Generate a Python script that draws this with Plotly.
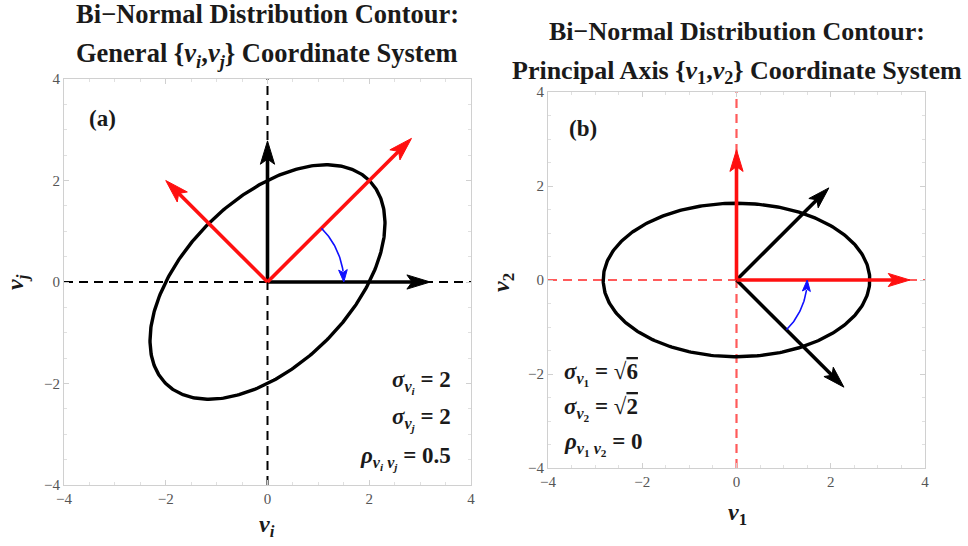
import numpy as np
import plotly.graph_objects as go

# ---- distribution parameters ----
# (a) general coordinates
sig_i, sig_j, rho_ij = 2.0, 2.0, 0.5
# (b) principal axes
sig_1, sig_2, rho_12 = np.sqrt(6.0), np.sqrt(2.0), 0.0
level = 4.0 / 3.0  # squared Mahalanobis distance of the drawn contour

# ---- axis vectors drawn from the origin ----
a_black = [(3.2, 0.0), (0.0, 2.78)]      # v_i, v_j in panel (a)
a_red = [(2.83, 2.83), (-2.0, 2.0)]      # v_1, v_2 in panel (a)
b_red = [(3.68, 0.0), (0.0, 2.77)]       # v_1, v_2 in panel (b)
b_black = [(2.28, -2.28), (1.96, 1.96)]  # v_i, v_j in panel (b)

# rotation arcs: radius and start/end angle (degrees)
arc_radius = 1.5
a_arc = (45.0, 0.0)
b_arc = (-45.0, 0.0)

ticks = [-4, -2, 0, 2, 4]
axis_range = [-4, 4]

SERIF = "Liberation Serif"
W, H = 968, 546

fig = go.Figure()


def ellipse(sx, sy, rho, c, n=361):
    cov = np.array([[sx * sx, rho * sx * sy], [rho * sx * sy, sy * sy]])
    vals, vecs = np.linalg.eigh(cov)
    t = np.linspace(0, 2 * np.pi, n)
    circ = np.vstack([np.cos(t), np.sin(t)]) * np.sqrt(c * vals)[:, None]
    pts = vecs @ circ
    return pts[0], pts[1]


def add_line(x, y, color, width, xa, ya, dash=None):
    fig.add_trace(go.Scatter(x=list(x), y=list(y), mode="lines",
                             line=dict(color=color, width=width, dash=dash),
                             xaxis=xa, yaxis=ya, hoverinfo="skip",
                             showlegend=False))


def add_head(tip, direction, color, length, half, xa, ya):
    tip = np.asarray(tip, float)
    u = np.asarray(direction, float)
    u = u / np.linalg.norm(u)
    nrm = np.array([-u[1], u[0]])
    back = tip - length * u
    notch = tip - 0.78 * length * u
    p = [tip, back + half * nrm, notch, back - half * nrm, tip]
    fig.add_trace(go.Scatter(x=[q[0] for q in p], y=[q[1] for q in p],
                             mode="lines", fill="toself", fillcolor=color,
                             line=dict(color=color, width=1),
                             xaxis=xa, yaxis=ya, hoverinfo="skip",
                             showlegend=False))


def add_arrow(vec, color, xa, ya, width=3.6, head=0.46, half=0.14):
    v = np.asarray(vec, float)
    L = np.linalg.norm(v)
    end = v * (L - 0.7 * head) / L
    add_line([0, end[0]], [0, end[1]], color, width, xa, ya)
    add_head(v, v, color, head, half, xa, ya)


def add_arc(r, a0, a1, xa, ya):
    stop = a1 + (8.0 if a1 < a0 else -8.0)
    th = np.radians(np.linspace(a0, stop, 40))
    add_line(r * np.cos(th), r * np.sin(th), "#1010ff", 1.6, xa, ya)
    tip = (r * np.cos(np.radians(a1)), r * np.sin(np.radians(a1)))
    d = np.array(tip) - np.array([r * np.cos(th[-1]), r * np.sin(th[-1])])
    add_head(tip, d, "#1010ff", 0.24, 0.085, xa, ya)


DASH = "9px,6px"

# ---------------- panel (a) ----------------
add_line(axis_range, [0, 0], "black", 2, "x", "y", dash=DASH)
add_line([0, 0], axis_range, "black", 2, "x", "y", dash=DASH)
ex, ey = ellipse(sig_i, sig_j, rho_ij, level)
add_line(ex, ey, "black", 3.4, "x", "y")
for v in a_black:
    add_arrow(v, "black", "x", "y")
for v in a_red:
    add_arrow(v, "#ff1010", "x", "y")
add_arc(arc_radius, a_arc[0], a_arc[1], "x", "y")

# ---------------- panel (b) ----------------
add_line(axis_range, [0, 0], "#ff5a5a", 2.2, "x2", "y2", dash=DASH)
add_line([0, 0], axis_range, "#ff5a5a", 2.2, "x2", "y2", dash=DASH)
ex, ey = ellipse(sig_1, sig_2, rho_12, level)
add_line(ex, ey, "black", 3.4, "x2", "y2")
for v in b_black:
    add_arrow(v, "black", "x2", "y2")
for v in b_red:
    add_arrow(v, "#ff1010", "x2", "y2")
add_arc(arc_radius, b_arc[0], b_arc[1], "x2", "y2")


def axis(domain, anchor):
    return dict(domain=domain, anchor=anchor, range=axis_range,
                automargin=False,
                showgrid=False, zeroline=False, showline=True,
                linecolor="#d0d0d0", linewidth=1, mirror="ticks",
                ticks="inside", ticklen=5, tickwidth=1, tickcolor="#d0d0d0",
                tickvals=ticks, ticktext=[str(t).replace("-", "−") for t in ticks],
                tickfont=dict(family=SERIF, size=15, color="#555"),
                minor=dict(dtick=0.5, ticks="inside", ticklen=3,
                           tickcolor="#e0e0e0"),
                fixedrange=True)


fig.update_layout(
    width=W, height=H, margin=dict(l=0, r=0, t=0, b=0),
    paper_bgcolor="white", plot_bgcolor="white", showlegend=False,
    xaxis=axis([64 / W, 471 / W], "y"),
    yaxis=axis([1 - 485 / H, 1 - 79 / H], "x"),
    xaxis2=axis([548 / W, 925 / W], "y2"),
    yaxis2=axis([1 - 468 / H, 1 - 92 / H], "x2"),
)


def text(s, x, y, size, xref="paper", yref="paper", xanchor="center",
         angle=0, color="#1a1a1a"):
    fig.add_annotation(text=s, x=x, y=y, xref=xref, yref=yref,
                       xanchor=xanchor, yanchor="middle", showarrow=False,
                       textangle=angle,
                       font=dict(family=SERIF, size=size, color=color))


def radical(n):
    return "√<span style='text-decoration:overline'>" + n + "</span>"


# titles
text("<b>Bi−Normal Distribution Contour:</b>", 267 / W, 1 - 14 / H, 26.5)
text("<b>General {<i>v<sub>i</sub></i>,<i>v<sub>j</sub></i>} Coordinate System</b>",
     267 / W, 1 - 55 / H, 26.5)
text("<b>Bi−Normal Distribution Contour:</b>", 736.5 / W, 1 - 31 / H, 26)
text("<b>Principal Axis {<i>v</i><sub>1</sub>,<i>v</i><sub>2</sub>} Coordinate System</b>",
     736.5 / W, 1 - 72 / H, 26)

# axis titles
text("<b><i>v<sub>i</sub></i></b>", 267 / W, 1 - 526 / H, 24)
text("<b><i>v<sub>j</sub></i></b>", 17 / W, 1 - 282 / H, 24, angle=-90)
text("<b><i>v</i><sub>1</sub></b>", 737 / W, 1 - 514 / H, 24)
text("<b><i>v</i><sub>2</sub></b>", 503 / W, 1 - 282 / H, 24, angle=-90)

# panel labels
text("<b>(a)</b>", -3.25, 3.23, 23, xref="x", yref="y")
text("<b>(b)</b>", -3.26, 3.23, 23, xref="x2", yref="y2")

# parameter notes
text("<b><i>σ</i><sub><i>v<sub>i</sub></i></sub> = 2</b>", 3.64, -1.97, 23,
     xref="x", yref="y", xanchor="right")
text("<b><i>σ</i><sub><i>v<sub>j</sub></i></sub> = 2</b>", 3.64, -2.70, 23,
     xref="x", yref="y", xanchor="right")
text("<b><i>ρ</i><sub><i>v<sub>i</sub> v<sub>j</sub></i></sub> = 0.5</b>", 3.64, -3.47, 23,
     xref="x", yref="y", xanchor="right")
text("<b><i>σ</i><sub><i>v</i><sub>1</sub></sub> = " + radical("6") + "</b>", -3.70, -2.0, 23,
     xref="x2", yref="y2", xanchor="left")
text("<b><i>σ</i><sub><i>v</i><sub>2</sub></sub> = " + radical("2") + "</b>", -3.70, -2.75, 23,
     xref="x2", yref="y2", xanchor="left")
text("<b><i>ρ</i><sub><i>v</i><sub>1</sub> <i>v</i><sub>2</sub></sub> = 0</b>", -3.70, -3.49, 23,
     xref="x2", yref="y2", xanchor="left")

fig.write_html("out.html")
